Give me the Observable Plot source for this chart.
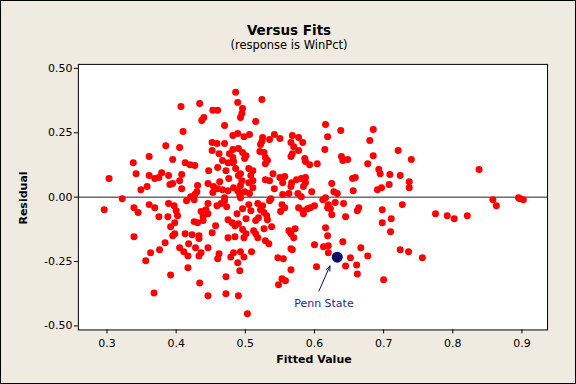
<!DOCTYPE html>
<html><head><meta charset="utf-8">
<script src="https://cdn.jsdelivr.net/npm/d3@7"></script>
<script src="https://cdn.jsdelivr.net/npm/@observablehq/plot@0.6"></script>
<style>
html,body{margin:0;padding:0;background:#fff;}
#wrap{position:relative;width:576px;height:384px;box-sizing:border-box;border:1px solid #000;background:#EFEBE1;font-family:"DejaVu Sans",sans-serif;overflow:hidden;color:#000;}
.lbl{position:absolute;white-space:nowrap;line-height:1;}
#title{top:23px;left:0;width:576px;text-align:center;font-weight:bold;font-size:13.5px;}
#subtitle{top:39px;left:0;width:576px;text-align:center;font-size:11.5px;}
#xlabel{top:353px;left:0;width:626px;text-align:center;font-weight:bold;font-size:11px;}
#ylabel{left:22px;top:197px;transform:translate(-50%,-50%) rotate(-90deg);font-weight:bold;font-size:11px;}
#chart{position:absolute;left:-1px;top:-1px;}
</style></head>
<body>
<div id="wrap">
  <div class="lbl" id="title">Versus Fits</div>
  <div class="lbl" id="subtitle">(response is WinPct)</div>
  <div class="lbl" id="xlabel">Fitted Value</div>
  <div class="lbl" id="ylabel">Residual</div>
  <div id="chart"></div>
</div>
<script>
const xTicks = [0.3, 0.4, 0.5, 0.6, 0.7, 0.8, 0.9];
const yTicks = [-0.5, -0.25, 0, 0.25, 0.5];

// [fitted value, residual]
const points = [
[0.296,-0.049],[0.303,0.072],[0.322,-0.006],[0.338,0.134],[0.342,0.091],[0.339,-0.041],[0.345,-0.06],[0.339,-0.154],
[0.349,0.029],[0.358,0.041],[0.361,0.158],[0.361,0.084],[0.361,-0.029],[0.369,-0.041],[0.369,0.072],[0.375,0.076],
[0.379,0.095],[0.375,-0.076],[0.363,-0.216],[0.356,-0.247],[0.368,-0.372],[0.376,-0.204],[0.384,-0.177],[0.385,0.2],
[0.388,-0.076],[0.389,-0.025],[0.397,-0.033],[0.4,-0.053],[0.402,-0.072],[0.389,0.084],[0.391,0.049],[0.395,0.053],
[0.395,0.146],[0.405,0.193],[0.407,0.352],[0.41,0.255],[0.408,0.088],[0.405,0.064],[0.408,0.033],[0.413,0.134],
[0.42,0.126],[0.427,0.123],[0.392,-0.302],[0.398,-0.099],[0.392,-0.115],[0.398,-0.142],[0.395,-0.15],[0.413,-0.142],
[0.423,-0.146],[0.433,-0.15],[0.433,-0.161],[0.418,-0.181],[0.405,-0.196],[0.411,-0.212],[0.417,-0.228],[0.428,-0.196],
[0.436,-0.216],[0.433,-0.228],[0.446,-0.196],[0.417,-0.274],[0.434,-0.333],[0.446,-0.383],[0.426,-0.095],[0.431,-0.099],
[0.439,-0.091],[0.436,-0.056],[0.443,-0.049],[0.446,-0.064],[0.439,-0.076],[0.446,-0.025],[0.415,-0.014],[0.421,0.002],
[0.427,0.01],[0.426,-0.01],[0.431,0.045],[0.43,0.021],[0.446,0.053],[0.447,0.103],[0.434,0.364],[0.437,0.298],
[0.44,0.309],[0.453,0.337],[0.46,0.337],[0.47,0.278],[0.452,0.212],[0.459,0.208],[0.47,0.208],[0.452,0.181],
[0.462,0.169],[0.482,0.185],[0.477,0.169],[0.482,0.239],[0.489,0.247],[0.498,0.235],[0.506,0.243],[0.467,0.142],
[0.475,0.134],[0.482,0.134],[0.46,0.115],[0.472,0.103],[0.486,0.111],[0.476,0.072],[0.493,0.091],[0.463,0.06],
[0.454,0.041],[0.46,0.033],[0.467,0.029],[0.475,0.025],[0.453,0.018],[0.47,-0.002],[0.492,0.006],
[0.486,0.407],[0.489,0.368],[0.496,0.344],[0.495,0.325],[0.493,0.309],[0.524,0.379],[0.515,0.294],
[0.49,0.189],[0.496,0.173],[0.501,0.161],[0.499,0.15],[0.482,0.154],[0.483,0.138],[0.49,0.084],[0.495,0.064],
[0.493,0.045],[0.505,0.111],[0.511,0.103],[0.508,0.084],[0.511,0.064],[0.505,0.056],[0.483,0.037],[0.489,0.025],
[0.493,0.014],[0.499,0.021],[0.506,0.014],[0.511,0.037],
[0.525,0.232],[0.524,0.216],[0.522,0.204],[0.535,0.224],[0.542,0.243],[0.55,0.228],[0.568,0.239],[0.566,0.212],
[0.57,0.196],[0.568,0.169],[0.566,0.158],[0.577,0.232],[0.583,0.212],[0.577,0.181],[0.521,0.177],[0.527,0.173],
[0.529,0.154],[0.532,0.142],[0.529,0.13],[0.586,0.15],[0.587,0.138],[0.593,0.126],[0.604,0.13],[0.54,0.091],
[0.529,0.068],[0.535,0.064],[0.542,0.033],[0.55,0.076],[0.557,0.08],[0.554,0.056],[0.567,0.056],[0.574,0.068],
[0.581,0.072],[0.587,0.076],[0.587,0.056],[0.584,0.041],[0.566,0.041],[0.596,0.021],[0.554,0.01],[0.563,0.014],
[0.576,0.014],[0.581,0.002],[0.537,-0.006],
[0.616,0.282],[0.638,0.259],[0.685,0.263],[0.619,0.235],[0.68,0.22],[0.615,0.185],[0.685,0.161],[0.639,0.158],
[0.648,0.146],[0.641,0.142],[0.677,0.13],[0.693,0.107],[0.695,0.091],[0.709,0.088],[0.625,0.053],[0.655,0.072],
[0.659,0.076],[0.656,0.025],[0.691,0.029],[0.697,0.037],[0.708,0.049],[0.628,0.021],[0.633,0.014],[0.616,-0.002],
[0.612,-0.01],[0.721,0.181],[0.74,0.146],[0.838,0.107],[0.724,0.084],[0.737,0.06],[0.737,0.037],
[0.858,-0.01],[0.863,-0.033],[0.895,-0.002],[0.897,-0.006],[0.902,-0.01],[0.727,-0.029],[0.698,-0.049],[0.711,-0.084],
[0.698,-0.099],[0.71,-0.134],[0.775,-0.064],[0.792,-0.072],[0.802,-0.084],[0.821,-0.072],[0.724,-0.204],[0.736,-0.212],
[0.756,-0.235],[0.7,-0.321],[0.677,-0.228],[0.667,-0.196],[0.652,-0.235],[0.661,-0.263],[0.662,-0.298],[0.645,-0.267],
[0.641,-0.173],[0.645,-0.076],[0.642,-0.025],[0.662,-0.053],[0.664,-0.041],
[0.619,-0.041],[0.623,-0.045],[0.625,-0.068],[0.62,-0.029],[0.63,-0.021],[0.577,-0.041],[0.583,-0.053],[0.584,-0.064],
[0.59,-0.045],[0.594,-0.041],[0.6,-0.033],[0.563,-0.13],[0.572,-0.123],[0.566,-0.142],[0.57,-0.158],[0.518,-0.025],
[0.525,-0.033],[0.522,-0.049],[0.527,-0.06],[0.531,-0.072],[0.532,-0.088],[0.519,-0.08],[0.515,-0.091],[0.527,-0.123],
[0.538,-0.115],[0.553,-0.029],[0.557,-0.041],[0.551,-0.056],[0.535,-0.014],[0.512,-0.13],[0.515,-0.142],[0.518,-0.158],
[0.529,-0.169],[0.534,-0.181],[0.475,-0.088],[0.481,-0.099],[0.485,-0.111],[0.49,-0.103],[0.496,-0.126],[0.501,-0.142],
[0.498,-0.158],[0.509,-0.212],[0.493,-0.212],[0.498,-0.232],[0.483,-0.216],[0.479,-0.232],[0.462,-0.22],[0.46,-0.239],
[0.489,-0.255],[0.492,-0.286],[0.472,-0.309],[0.472,-0.375],[0.49,-0.383],[0.503,-0.453],[0.566,-0.282],[0.548,-0.34],
[0.553,-0.317],[0.558,-0.325],[0.547,-0.235],[0.555,-0.239],[0.566,-0.2],[0.568,-0.204],[0.603,-0.27],[0.6,-0.185],
[0.613,-0.193],[0.62,-0.189],[0.62,-0.216],[0.616,-0.119],[0.619,-0.15],[0.475,-0.158],[0.485,-0.154],[0.452,-0.138],
[0.457,-0.111],[0.496,-0.045],[0.505,-0.029],[0.508,-0.053],[0.501,-0.084],[0.488,-0.064],[0.493,-0.002],[0.459,-0.033],
[0.465,-0.025],[0.47,-0.014],[0.473,-0.037]
];

const highlightName = "Penn State";
const highlightFit = 0.633;
const highlightResid = -0.233;
const arrowStart = [0.6065, -0.364];
const arrowEnd = [0.6224, -0.267];
const labelPos = [0.6137, -0.411];

const data = points.map(([fit, resid]) => ({fit, resid}));
const hl = [{fit: highlightFit, resid: highlightResid}];
const arrowData = [{x1: arrowStart[0], y1: arrowStart[1], x2: arrowEnd[0], y2: arrowEnd[1]}];
const labelData = [{x: labelPos[0], y: labelPos[1], t: highlightName}];

const chart = Plot.plot({
  width: 576, height: 384,
  marginTop: 64, marginRight: 28, marginBottom: 54, marginLeft: 78,
  style: {background: "transparent", fontFamily: "DejaVu Sans", fontSize: "11px", color: "#000", overflow: "visible"},
  x: {domain: [0.2586, 0.937]},
  y: {domain: [-0.5155, 0.5155]},
  marks: [
    Plot.frame({fill: "white"}),
    Plot.ruleY([0], {stroke: "#222", strokeWidth: 1}),
    Plot.dot(data, {x: "fit", y: "resid", r: 3.5, fill: "#FF0000", stroke: "none"}),
    Plot.dot(hl, {x: "fit", y: "resid", r: 5.5, fill: "#0C0C6E", stroke: "none"}),
    Plot.arrow(arrowData, {x1: "x1", y1: "y1", x2: "x2", y2: "y2", stroke: "#0C0C6E", strokeWidth: 1, headLength: 8, headAngle: 45}),
    Plot.text(labelData, {x: "x", y: "y", text: "t", fill: "#26269C", fontSize: 11}),
    Plot.frame({stroke: "#000"}),
    Plot.axisX({ticks: xTicks, tickSize: 4, tickPadding: 5, tickFormat: d => d.toFixed(1), label: null, fontSize: 11}),
    Plot.axisY({ticks: yTicks, tickSize: 4, tickPadding: 2, tickFormat: d => d.toFixed(2), label: null, fontSize: 11})
  ]
});
document.getElementById("chart").appendChild(chart);
</script>
</body></html>
